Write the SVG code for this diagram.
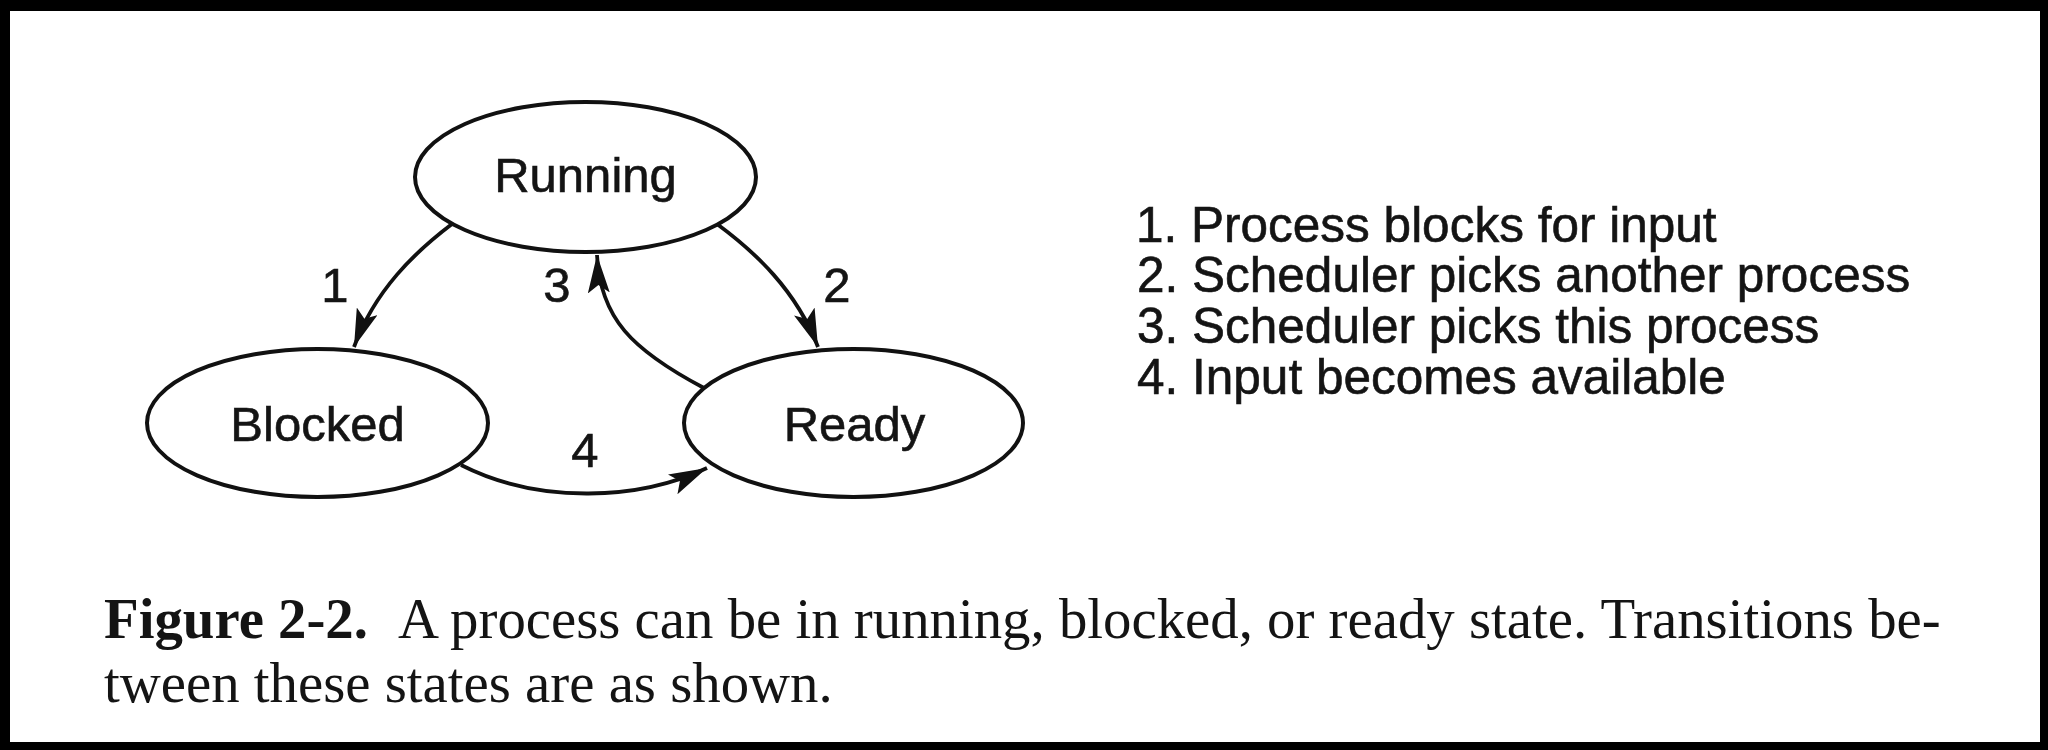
<svg xmlns="http://www.w3.org/2000/svg" width="2048" height="750" viewBox="0 0 2048 750">
  <style>
    .node { fill: #ffffff; stroke: #111111; stroke-width: 4; }
    .lbl { font-family: "Liberation Sans", Arial, Helvetica, sans-serif; font-size: 49px; fill: #141414; stroke: #141414; stroke-width: 0.6; text-anchor: middle; }
    .edge { fill: none; stroke: #111111; stroke-width: 3.8; marker-end: url(#arrow); }
    .num { font-family: "Liberation Sans", Arial, Helvetica, sans-serif; font-size: 49px; fill: #141414; stroke: #141414; stroke-width: 0.6; text-anchor: middle; }
    .legend { font-family: "Liberation Sans", Arial, Helvetica, sans-serif; font-size: 49.5px; fill: #141414; stroke: #141414; stroke-width: 0.6; }
    .cap { font-family: "Liberation Serif", "Times New Roman", serif; font-size: 56.8px; fill: #141414; }
  </style>
  <defs>
    <marker id="arrow" markerUnits="userSpaceOnUse" viewBox="0 0 38 22" markerWidth="38" markerHeight="22" refX="38" refY="11" orient="auto">
      <path d="M0,0 L38,11 L0,22 L8,11 z" fill="#111111"/>
    </marker>
  </defs>

  <rect x="0" y="0" width="2048" height="750" fill="#000000"/>
  <rect x="10" y="11" width="2030" height="731" fill="#ffffff"/>

  <g id="connectors">
    <path id="e1" class="edge" d="M452,224 C415,252 375,290 354,347"/>
    <path id="e2" class="edge" d="M717,224 C755,252 796,290 818,347"/>
    <path id="e3" class="edge" d="M704,388 C632,350 600,318 597,255"/>
    <path id="e4" class="edge" d="M461,465 C540,505 640,500 707,468"/>
    <text class="num" x="335" y="302">1</text>
    <text class="num" x="837" y="302">2</text>
    <text class="num" x="557" y="302">3</text>
    <text class="num" x="585" y="467">4</text>
  </g>

  <g id="running">
    <ellipse class="node" cx="585.5" cy="177" rx="170.5" ry="75"/>
    <text class="lbl" x="585.5" y="192">Running</text>
  </g>
  <g id="blocked">
    <ellipse class="node" cx="317.5" cy="423" rx="170.5" ry="74"/>
    <text class="lbl" x="317.5" y="441">Blocked</text>
  </g>
  <g id="ready">
    <ellipse class="node" cx="853.5" cy="423" rx="169.5" ry="74"/>
    <text class="lbl" x="854.5" y="441">Ready</text>
  </g>

  <g id="legend">
    <text class="legend" x="1136" y="242">1. Process blocks for input</text>
    <text class="legend" x="1137" y="292">2. Scheduler picks another process</text>
    <text class="legend" x="1137" y="343">3. Scheduler picks this process</text>
    <text class="legend" x="1137" y="394">4. Input becomes available</text>
  </g>

  <g id="caption">
    <text class="cap" y="638"><tspan x="104" font-weight="bold">Figure 2-2.</tspan><tspan x="398">A process can be in running, blocked, or ready state. Transitions be-</tspan></text>
    <text class="cap" x="104" y="702">tween these states are as shown.</text>
  </g>
</svg>
